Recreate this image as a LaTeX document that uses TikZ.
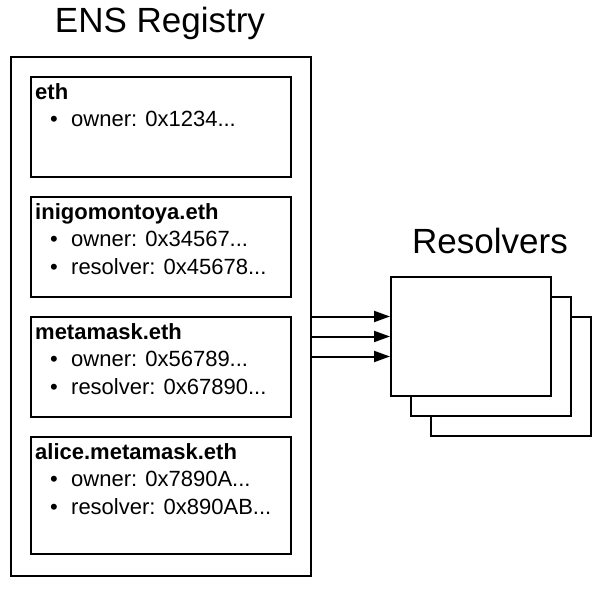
\documentclass[tikz,border=0pt]{standalone}
\usepackage{fontspec}
\setmainfont{Liberation Sans}
\usetikzlibrary{positioning}
\usetikzlibrary{arrows.meta}
\newcommand{\entryitem}[1]{\hspace*{15pt}\makebox[21pt][l]{•}#1}

\begin{document}
\begin{tikzpicture}[x=1pt, y=1pt,
  every node/.style={inner sep=0pt},
  regbox/.style={draw=black, line width=2pt, anchor=north west},
  entrybox/.style={draw=black, line width=2pt, fill=white, minimum width=260pt, minimum height=100pt, anchor=north west},
  resbox/.style={draw=black, line width=2pt, fill=white, minimum width=160pt, minimum height=119pt, anchor=north west},
  entrytext/.style={anchor=north west, align=left, font=\fontsize{22}{27.5}\selectfont},
  headline/.style={font=\fontsize{35}{40}\selectfont, anchor=base},
  link/.style={line width=2pt, -{Triangle[length=16pt, width=11pt]}}]
\useasboundingbox (0,0) rectangle (597,-591);
% titles
\node (regtitle) [headline] at (160, -33) {ENS Registry};
\node (restitle) [headline] at (490, -253) {Resolvers};
% registry
\node (reg) [regbox, minimum width=300pt, minimum height=519pt] at (10, -56) {};
\node (eth) [entrybox] at (30, -76) {};
\node (inigo) [entrybox] at (30, -196) {};
\node (meta) [entrybox] at (30, -316) {};
\node (alice) [entrybox, minimum height=117pt] at (30, -436) {};
\node (ethtext) [entrytext] at (35, -83) {\textbf{eth}\\ \entryitem{owner: 0x1234...}};
\node (inigotext) [entrytext] at (35, -203) {\textbf{inigomontoya.eth}\\ \entryitem{owner: 0x34567...}\\ \entryitem{resolver: 0x45678...}};
\node (metatext) [entrytext] at (35, -323) {\textbf{metamask.eth}\\ \entryitem{owner: 0x56789...}\\ \entryitem{resolver: 0x67890...}};
\node (alicetext) [entrytext] at (35, -443) {\textbf{alice.metamask.eth}\\ \entryitem{owner: 0x7890A...}\\ \entryitem{resolver: 0x890AB...}};
% resolvers
\node (res3) [resbox] at (430, -316) {};
\node (res2) [resbox] at (410, -296) {};
\node (res1) [resbox] at (390, -276) {};
\draw [link] (reg.east) to (reg.east -| res1.west);
\draw [link] (reg.east |- res1.west) to (res1.west);
\draw [link] ([yshift=-20pt]reg.east |- res1.west) to ([yshift=-20pt]res1.west);
\end{tikzpicture}
\end{document}
